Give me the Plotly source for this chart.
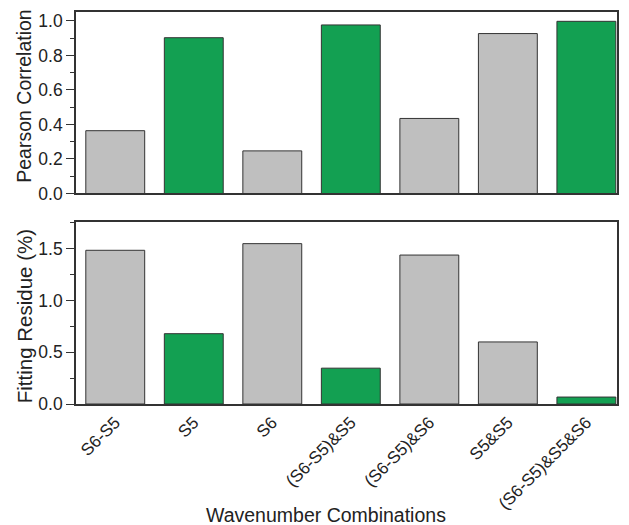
import plotly.graph_objects as go
from plotly.subplots import make_subplots

# Wavenumber combinations and the two metrics evaluated for each
combinations = ["S6-S5", "S5", "S6", "(S6-S5)&S5", "(S6-S5)&S6", "S5&S5", "(S6-S5)&S5&S6"]
pearson = [0.364, 0.903, 0.247, 0.977, 0.435, 0.927, 0.998]
residue = [1.484, 0.679, 1.548, 0.346, 1.438, 0.599, 0.067]
highlight = [False, True, False, True, False, False, True]

GREEN = "#13a052"
GRAY = "#bfbfbf"
EDGE = "#333333"
TEXT = "#222222"
FONT = "Liberation Sans, Arial, sans-serif"

colors = [GREEN if h else GRAY for h in highlight]
idx = list(range(len(combinations)))

fig = make_subplots(rows=2, cols=1, shared_xaxes=False, vertical_spacing=0.07)

fig.add_trace(go.Bar(x=idx, y=pearson, marker=dict(color=colors, line=dict(color=EDGE, width=1)),
                     showlegend=False), row=1, col=1)
fig.add_trace(go.Bar(x=idx, y=residue, marker=dict(color=colors, line=dict(color=EDGE, width=1)),
                     showlegend=False), row=2, col=1)

axis_common = dict(showline=True, linecolor=EDGE, linewidth=1.6, mirror=True,
                   showgrid=False, zeroline=False)

fig.update_xaxes(**axis_common, range=[-0.5, 6.39], ticks="")
fig.update_xaxes(showticklabels=False, row=1, col=1)
fig.update_xaxes(tickmode="array", tickvals=idx, ticktext=combinations, tickangle=-45,
                 tickfont=dict(size=17, color=TEXT), row=2, col=1)

fig.update_yaxes(**axis_common, ticks="outside", ticklen=8, tickwidth=1.2, tickcolor=EDGE,
                 tickfont=dict(size=17.5, color=TEXT))
fig.update_yaxes(range=[0, 1.052], dtick=0.2, tickformat=".1f",
                 minor=dict(dtick=0.1, ticks="outside", ticklen=4, tickcolor=EDGE),
                 row=1, col=1)
fig.update_yaxes(range=[0, 1.756], dtick=0.5, tickformat=".1f",
                 minor=dict(dtick=0.25, ticks="outside", ticklen=4, tickcolor=EDGE),
                 row=2, col=1)

fig.update_layout(
    width=629, height=525,
    margin=dict(l=76, r=10, t=11, b=121),
    plot_bgcolor="white", paper_bgcolor="white",
    font=dict(family=FONT, color=TEXT),
    bargap=0.25,
    yaxis=dict(domain=[0.537, 1.0]),
    yaxis2=dict(domain=[0.0, 0.464]),
)

# Axis titles
fig.add_annotation(text="Pearson Correlation", xref="paper", yref="paper",
                   x=-0.096, y=0.784, xanchor="center", yanchor="middle", textangle=-90,
                   showarrow=False, font=dict(size=19.5, color=TEXT))
fig.add_annotation(text="Fitting Residue (%)", xref="paper", yref="paper",
                   x=-0.096, y=0.224, xanchor="center", yanchor="middle", textangle=-90,
                   showarrow=False, font=dict(size=20.5, color=TEXT))
fig.add_annotation(text="Wavenumber Combinations", xref="paper", yref="paper",
                   x=0.462, y=-0.282, xanchor="center", yanchor="middle",
                   showarrow=False, font=dict(size=19.5, color=TEXT))

fig.write_html("out.html")
